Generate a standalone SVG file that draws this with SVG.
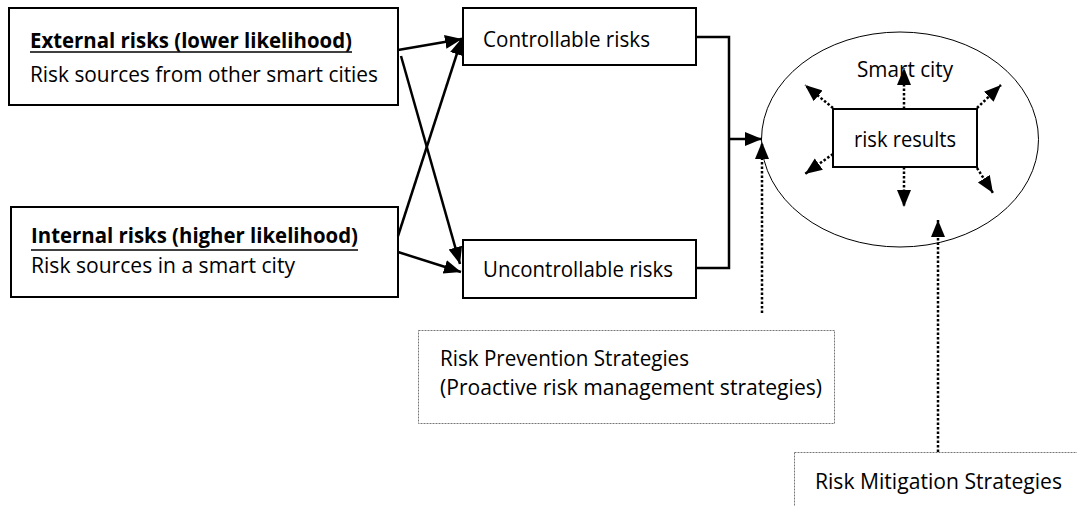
<svg xmlns="http://www.w3.org/2000/svg" width="1077" height="506" viewBox="0 0 1077 506">
<style>
text{font-family:"Open Sans","Noto Sans","Liberation Sans",sans-serif;font-size:21px;fill:#000}
.b{font-weight:bold}
.box{fill:#fff;stroke:#000;stroke-width:2}
.dbox{fill:#fff;stroke:#777;stroke-width:1;stroke-dasharray:2 1}
.con{fill:none;stroke:#000;stroke-width:2.5}
.dot{fill:none;stroke:#000;stroke-width:2.5;stroke-dasharray:2.5 2}
.ul{stroke:#000;stroke-width:1.5}
</style>
<defs>
<marker id="ah" markerUnits="userSpaceOnUse" markerWidth="18" markerHeight="16" refX="17" refY="7" orient="auto" viewBox="0 0 18 16">
<path d="M0,0 L17,7 L0,14 z" fill="#000"/>
</marker>
</defs>
<rect width="1077" height="506" fill="#fff"/>

<g id="external">
<rect class="box" x="9" y="8" width="389" height="97"/>
<text class="b" x="30" y="48" textLength="322" lengthAdjust="spacingAndGlyphs">External risks (lower likelihood)</text>
<line class="ul" x1="30" y1="52" x2="352" y2="52"/>
<text x="30" y="82" textLength="348" lengthAdjust="spacingAndGlyphs">Risk sources from other smart cities</text>
</g>

<g id="internal">
<rect class="box" x="11" y="207" width="387" height="90"/>
<text class="b" x="31" y="243" textLength="327" lengthAdjust="spacingAndGlyphs">Internal risks (higher likelihood)</text>
<line class="ul" x1="31" y1="250" x2="358" y2="250"/>
<text x="31" y="273" textLength="264" lengthAdjust="spacingAndGlyphs">Risk sources in a smart city</text>
</g>

<g id="controllable">
<rect class="box" x="463" y="8" width="233" height="57"/>
<text x="483" y="47" textLength="167" lengthAdjust="spacingAndGlyphs">Controllable risks</text>
</g>

<g id="uncontrollable">
<rect class="box" x="463" y="240" width="233" height="58"/>
<text x="483" y="277" textLength="190" lengthAdjust="spacingAndGlyphs">Uncontrollable risks</text>
</g>

<g id="smartcity">
<ellipse cx="900" cy="139.5" rx="138.5" ry="107.5" fill="none" stroke="#000" stroke-width="1"/>
<text x="857" y="77" textLength="96" lengthAdjust="spacingAndGlyphs">Smart city</text>
</g>

<g id="riskresults">
<rect class="box" x="833" y="109" width="144" height="58"/>
<text x="854" y="147" textLength="102" lengthAdjust="spacingAndGlyphs">risk results</text>
</g>

<g id="prevention">
<rect class="dbox" x="418.5" y="330.5" width="416" height="93"/>
<text x="440" y="366" textLength="249" lengthAdjust="spacingAndGlyphs">Risk Prevention Strategies</text>
<text x="440" y="395" textLength="382" lengthAdjust="spacingAndGlyphs">(Proactive risk management strategies)</text>
</g>

<g id="mitigation">
<rect class="dbox" x="794.5" y="452.5" width="300" height="100"/>
<text x="815" y="489" textLength="247" lengthAdjust="spacingAndGlyphs">Risk Mitigation Strategies</text>
</g>

<g id="connectors">
<line class="con" x1="398" y1="50" x2="462" y2="39" marker-end="url(#ah)"/>
<line class="con" x1="401" y1="56" x2="460" y2="264" marker-end="url(#ah)"/>
<line class="con" x1="398" y1="236" x2="462" y2="38" marker-end="url(#ah)"/>
<line class="con" x1="398" y1="252" x2="461" y2="272" marker-end="url(#ah)"/>
<polyline class="con" points="696,37 729,37 729,268 696,268"/>
<line class="con" x1="729" y1="139" x2="762" y2="139" marker-end="url(#ah)"/>
<line class="dot" x1="762" y1="313" x2="762" y2="142" marker-end="url(#ah)"/>
<line class="dot" x1="938" y1="452" x2="938" y2="220" marker-end="url(#ah)"/>
<line class="dot" x1="904" y1="109" x2="904" y2="68" marker-end="url(#ah)"/>
<line class="dot" x1="904" y1="167" x2="904" y2="207" marker-end="url(#ah)"/>
<line class="dot" x1="833" y1="108" x2="805" y2="85" marker-end="url(#ah)"/>
<line class="dot" x1="977" y1="108" x2="1001" y2="85" marker-end="url(#ah)"/>
<line class="dot" x1="833" y1="154" x2="805" y2="174" marker-end="url(#ah)"/>
<line class="dot" x1="977" y1="168" x2="993" y2="193" marker-end="url(#ah)"/>
</g>
</svg>
